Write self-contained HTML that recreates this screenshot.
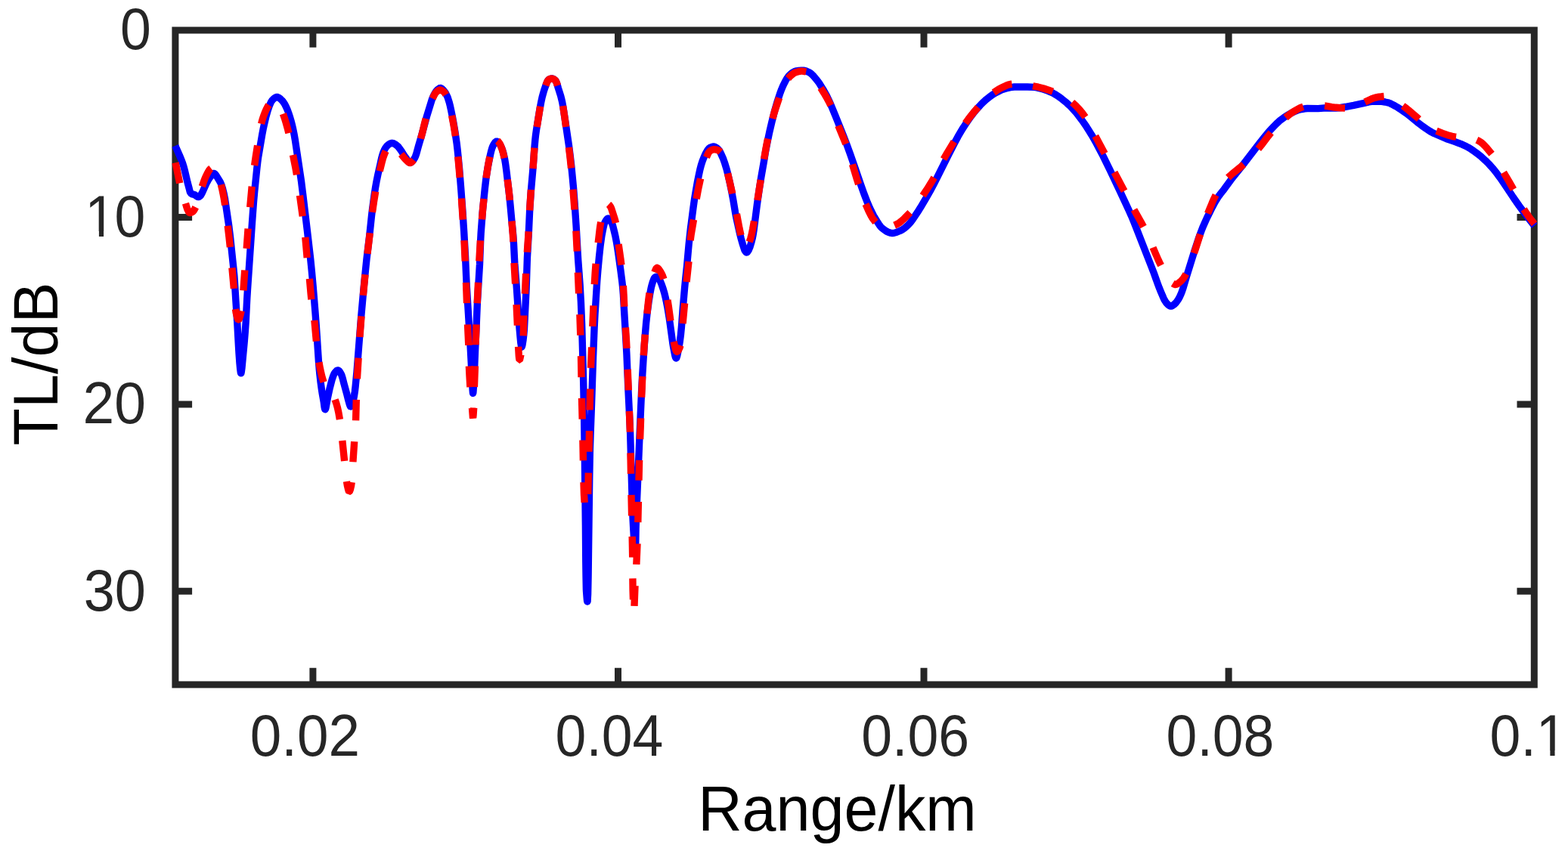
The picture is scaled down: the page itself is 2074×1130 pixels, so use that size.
<!DOCTYPE html>
<html lang="en"><head><meta charset="utf-8"><title>TL/dB versus Range/km</title>
<style>html,body{margin:0;padding:0;background:#fff}body{width:2074px;height:1130px}svg{display:block}text{font-family:"Liberation Sans",sans-serif}.tk{font-size:75px;fill:#262626}.lb{font-size:82.5px;fill:#000}</style></head><body>
<svg width="2074" height="1130" viewBox="0 0 2074 1130" role="img" aria-label="TL/dB versus Range/km">
<rect width="2074" height="1130" fill="#fff"/>
<g stroke="#262626" stroke-width="9.0" fill="none" stroke-linecap="butt" stroke-linejoin="miter">
<rect x="231.9" y="40.0" width="1797.40" height="865.90"/>
<path d="M413.9,905.9V883.7M413.9,40.0V62.8"/>
<path d="M817.5,905.9V883.7M817.5,40.0V62.8"/>
<path d="M1222.0,905.9V883.7M1222.0,40.0V62.8"/>
<path d="M1625.1,905.9V883.7M1625.1,40.0V62.8"/>
<path d="M231.9,287.6H254.1M2029.3,287.6H2006.5"/>
<path d="M231.9,534.9H254.1M2029.3,534.9H2006.5"/>
<path d="M231.9,782.3H254.1M2029.3,782.3H2006.5"/>
</g>
<g class="tk">
<text transform="translate(330.80,1000.20) scale(0.995,1.045)">0.02</text>
<text transform="translate(734.60,1000.20) scale(0.978,1.045)">0.04</text>
<text transform="translate(1139.30,1000.20) scale(0.978,1.045)">0.06</text>
<text transform="translate(1542.60,1000.20) scale(0.978,1.045)">0.08</text>
<text transform="translate(1970.60,1000.20) scale(0.978,1.045)">0.1</text>
<text transform="translate(199.90,65.00) scale(0.978,1.045)" text-anchor="end">0</text>
<text transform="translate(112.31,312.80) scale(0.978,1.045)" letter-spacing="-1.64">10</text>
<text transform="translate(192.90,560.40) scale(1.0,1.045)" text-anchor="end">20</text>
<text transform="translate(192.90,807.90) scale(0.985,1.045)" text-anchor="end">30</text>
</g>
<rect x="2036.16" y="993.44" width="14.21" height="7.96" fill="#fff"/><rect x="2056.55" y="993.44" width="13.63" height="7.96" fill="#fff"/>
<rect x="116.70" y="306.04" width="14.21" height="7.96" fill="#fff"/><rect x="137.09" y="306.04" width="13.63" height="7.96" fill="#fff"/>
<text class="lb" transform="translate(923.2,1099.4) scale(0.98,1.015)">Range/km</text>
<text class="lb" transform="translate(76.2,589.6) rotate(-90) scale(0.982,1.02)">TL/dB</text>
<g fill="none" stroke-linecap="butt">
<path stroke="#0000ff" stroke-width="9.4" stroke-linejoin="round" d="M231.8,192.8L237.8,206.5L240.5,213.0L241.7,216.3L242.9,220.1L244.3,225.5L248.1,241.5L250.3,249.7L251.0,252.7L251.6,254.5L252.2,255.3L252.9,256.1L254.2,256.9L256.6,257.4L257.6,257.7L260.0,259.6L261.8,260.5L262.3,260.6L263.2,260.4L264.6,259.4L265.2,258.9L265.7,258.1L267.5,254.9L273.0,242.6L274.2,240.4L275.9,237.3L277.6,234.8L280.6,231.0L281.7,229.9L282.4,229.5L282.8,229.4L283.1,229.4L283.8,229.7L284.5,230.3L285.1,231.0L286.1,232.4L290.3,239.3L291.6,241.5L292.6,243.8L293.4,246.1L294.3,248.9L295.9,255.3L297.5,263.1L302.6,297.8L304.6,314.1L309.0,355.9L309.8,364.4L310.3,371.9L312.0,399.3L313.8,427.2L315.5,458.2L316.1,468.2L317.0,480.6L317.7,488.1L318.3,492.5L318.5,493.6L318.8,493.9L319.0,493.4L319.3,491.9L320.0,486.6L323.1,453.5L324.2,440.0L325.2,425.6L326.8,394.1L327.5,382.6L333.2,298.8L335.5,266.9L336.7,253.5L339.9,222.1L340.8,214.2L341.6,208.2L346.7,178.2L348.1,170.8L349.6,163.9L351.9,154.2L353.8,147.4L355.8,141.3L357.8,136.5L358.7,134.7L359.5,133.5L360.2,132.5L361.4,131.3L362.6,130.2L363.9,129.2L365.3,128.6L366.2,128.4L367.0,128.5L367.8,128.8L368.7,129.2L370.0,130.1L371.3,131.2L372.9,132.8L374.2,134.2L375.3,135.8L376.9,138.3L378.3,141.1L380.3,145.7L381.7,149.5L383.1,153.7L384.7,159.0L386.2,164.8L387.6,170.7L389.1,178.0L390.3,184.9L397.2,230.9L398.5,239.8L400.6,256.7L406.4,305.3L410.6,341.6L412.3,358.5L414.2,379.4L416.9,412.3L418.4,432.3L421.5,479.2L422.2,487.5L422.9,495.1L424.0,505.0L425.3,514.5L426.3,520.9L428.2,531.7L429.0,538.0L429.5,540.6L429.9,541.7L430.0,541.8L430.2,541.7L430.6,540.9L431.0,539.5L431.6,536.4L433.4,526.4L436.2,513.6L437.7,507.8L439.4,501.4L440.4,498.4L441.7,495.3L442.3,494.0L443.2,492.8L444.3,491.5L445.1,490.7L446.0,490.2L446.8,489.9L447.1,489.9L447.8,490.2L448.6,490.8L449.3,491.7L450.8,494.2L451.5,495.5L452.2,497.3L453.2,500.6L454.7,506.6L458.9,522.0L460.6,528.8L462.3,535.1L463.1,537.2L463.5,537.8L463.8,537.9L464.2,537.6L464.5,537.2L465.5,535.7L466.3,533.8L467.0,531.4L467.8,527.5L468.6,523.0L469.4,517.6L470.1,511.6L471.0,502.2L472.0,491.7L477.7,418.9L481.2,380.1L483.4,358.2L485.0,342.5L488.8,311.2L491.4,286.6L492.6,276.2L495.3,256.4L496.6,248.0L498.0,240.1L499.8,231.3L502.7,218.6L504.6,209.7L505.6,205.9L506.8,202.1L508.2,198.8L509.7,196.0L511.4,193.6L512.4,192.6L513.5,191.7L515.7,190.2L516.7,189.8L517.7,189.4L518.6,189.3L519.5,189.4L520.8,189.8L522.6,190.8L525.2,192.8L526.7,194.1L527.3,194.9L530.9,199.8L534.6,205.7L537.0,209.0L539.2,212.5L540.2,213.8L540.8,214.5L541.9,215.2L542.5,215.3L542.9,215.2L544.0,214.7L545.7,213.2L547.1,211.4L548.4,209.3L549.6,206.7L550.6,203.9L553.3,194.0L557.8,178.6L564.2,154.9L570.5,134.3L571.4,131.5L572.3,129.2L574.0,125.5L575.5,122.8L576.9,120.7L578.9,118.5L580.7,117.2L581.5,116.7L582.4,116.5L582.8,116.5L583.6,116.8L584.9,117.7L586.5,119.3L588.3,121.6L589.7,123.7L590.8,126.0L592.1,128.8L593.0,131.6L594.2,135.4L595.2,139.3L596.5,145.2L598.7,156.0L600.1,163.8L601.8,173.7L604.1,189.5L605.1,198.0L606.1,207.4L607.7,224.4L609.7,249.3L611.8,277.7L613.7,306.6L615.5,338.6L616.7,366.6L617.2,377.5L622.4,463.4L625.1,515.3L625.4,519.2L625.6,520.4L625.9,519.1L626.2,514.9L627.3,495.1L628.5,465.6L630.0,433.6L631.4,400.1L634.5,349.7L634.8,341.7L635.7,317.3L636.2,307.8L637.1,295.8L638.1,282.3L639.5,267.9L641.4,249.0L642.8,237.1L644.1,228.2L645.6,219.3L648.6,204.5L649.8,199.5L650.8,196.2L651.8,193.5L652.9,191.2L654.2,189.2L655.3,187.9L656.4,187.2L656.9,187.1L657.4,187.2L658.5,187.9L660.1,189.5L661.7,191.9L663.0,194.5L664.3,197.6L665.5,201.5L666.5,205.5L667.6,210.5L668.5,215.9L669.8,225.3L673.9,260.1L674.9,270.5L677.0,293.4L678.8,311.8L679.5,322.3L680.4,340.8L680.8,348.3L683.1,377.5L686.8,431.6L688.2,447.3L688.8,453.6L689.5,458.1L689.8,459.0L690.0,459.1L690.1,459.0L690.4,458.4L690.9,456.7L691.9,450.6L692.8,442.8L693.4,436.1L696.1,382.1L697.4,341.2L699.3,308.2L700.8,275.3L702.5,251.2L704.9,223.9L707.1,193.5L707.8,185.5L708.5,179.1L709.6,171.2L713.8,145.5L715.8,134.7L717.2,128.3L718.8,122.5L720.1,118.2L722.5,111.3L723.8,108.2L724.7,106.5L725.3,105.8L725.9,105.2L727.0,104.7L729.0,104.1L730.5,104.0L731.5,104.3L732.5,104.8L733.4,105.4L734.4,106.3L735.0,106.9L735.6,108.1L736.2,109.4L736.9,111.4L738.4,116.6L741.6,126.6L742.7,131.0L743.7,135.3L745.1,143.2L747.5,159.0L752.5,192.7L754.2,206.1L755.7,219.0L757.1,233.4L758.5,248.3L759.8,264.8L762.1,298.7L763.9,330.7L764.7,344.1L767.1,376.6L768.4,399.5L769.6,428.5L771.6,501.0L772.5,545.0L773.3,599.4L774.4,695.4L774.8,744.0L775.1,764.5L775.4,779.9L775.6,783.4L776.3,792.2L776.6,794.9L776.9,796.0L777.1,795.4L777.2,793.5L777.6,786.3L778.1,761.2L779.7,635.2L780.4,594.7L781.0,576.2L782.5,535.7L784.6,471.7L786.1,433.8L787.0,415.8L789.7,372.4L790.8,358.4L792.4,341.0L794.1,325.1L795.9,312.2L796.8,307.3L798.1,300.8L798.8,297.9L799.7,295.1L800.3,293.8L801.2,292.2L802.5,290.3L803.2,289.6L803.9,289.1L804.4,289.0L804.9,289.1L805.7,289.6L806.4,290.3L807.5,291.7L808.4,293.2L809.6,295.8L810.7,299.1L812.9,308.0L814.1,313.3L815.4,320.2L816.8,328.6L818.2,338.0L820.8,356.8L822.9,373.2L823.6,379.7L824.4,389.6L825.5,409.6L827.6,444.5L828.9,468.0L831.0,517.0L832.9,555.4L833.6,571.9L836.0,655.9L837.1,686.8L837.8,700.3L838.8,716.6L839.7,729.2L840.1,732.4L840.3,733.5L840.5,732.2L840.6,727.9L841.1,699.1L841.6,684.3L845.9,579.4L848.5,519.9L849.5,500.0L850.8,479.0L852.4,455.1L853.6,439.6L854.7,426.7L856.0,414.7L857.9,400.3L859.6,389.5L860.5,384.6L861.4,380.1L862.3,376.7L863.3,373.4L864.9,369.0L865.4,368.1L866.0,367.3L867.1,366.5L868.1,366.2L869.0,366.4L870.0,366.9L870.8,367.5L871.4,368.1L872.4,369.9L875.0,376.0L877.1,382.1L878.8,387.9L880.2,393.7L881.7,400.5L883.2,408.4L885.2,420.7L889.8,453.9L890.6,458.9L892.1,466.8L892.8,470.5L893.5,472.8L893.9,473.7L894.2,474.0L894.4,474.0L894.7,473.7L895.2,472.4L895.9,469.9L897.9,460.0L899.3,451.7L900.4,443.2L901.5,431.8L903.3,407.3L905.5,381.9L906.5,371.5L908.6,351.6L911.1,323.7L913.3,303.3L917.0,274.6L918.6,263.2L920.6,251.3L922.3,241.5L924.4,231.2L925.9,224.3L927.4,218.5L929.1,213.3L930.9,208.6L932.1,205.8L933.4,203.1L935.4,199.5L936.9,197.3L937.8,196.3L938.8,195.6L940.7,194.7L942.3,194.2L943.8,194.0L945.1,194.2L946.1,194.6L947.0,195.1L948.8,196.4L950.2,197.7L951.4,199.1L952.4,200.9L953.8,203.7L956.5,209.7L958.8,216.3L961.1,223.9L963.3,232.7L965.6,242.9L967.6,252.7L969.8,264.5L972.5,280.8L973.9,288.2L978.8,310.1L980.3,316.0L982.5,323.6L984.5,329.9L985.1,331.3L985.8,332.5L986.9,333.8L987.3,334.1L987.6,334.1L988.0,333.9L988.4,333.6L989.1,332.7L990.2,331.0L991.0,329.2L991.8,327.3L993.0,323.4L994.1,319.6L995.1,315.7L995.9,311.8L997.1,304.4L1001.4,270.6L1004.3,250.3L1006.7,235.0L1010.4,213.9L1012.3,202.0L1014.8,188.8L1017.8,174.6L1020.9,161.4L1024.6,146.9L1027.9,135.3L1031.8,123.4L1033.2,119.6L1034.7,115.9L1036.1,112.8L1038.1,108.7L1039.6,105.9L1041.2,103.3L1042.7,101.3L1043.9,99.8L1045.6,98.2L1048.0,96.3L1049.8,95.2L1051.7,94.3L1053.6,93.8L1056.5,93.4L1060.0,93.1L1062.5,93.2L1064.5,93.5L1066.5,94.1L1069.7,95.5L1071.4,96.4L1072.9,97.5L1074.8,99.3L1076.6,101.2L1080.1,105.4L1082.0,107.8L1084.0,110.7L1088.5,117.9L1091.0,122.3L1093.6,127.1L1096.2,132.5L1098.5,137.5L1105.2,153.7L1115.6,179.7L1119.5,189.9L1124.5,203.6L1131.7,224.4L1138.2,243.3L1142.9,256.5L1145.4,263.0L1147.4,268.1L1149.6,273.2L1151.9,278.2L1155.5,285.3L1159.9,292.7L1162.7,297.1L1163.9,298.8L1165.1,300.3L1166.5,301.6L1167.9,302.8L1170.3,304.6L1172.5,306.0L1174.4,307.0L1175.9,307.6L1177.8,308.2L1179.2,308.5L1180.6,308.5L1182.1,308.3L1183.5,308.0L1185.5,307.5L1187.9,306.5L1190.3,305.5L1192.9,304.2L1194.6,303.2L1196.3,302.0L1197.8,300.7L1201.2,297.6L1204.2,294.3L1207.2,290.4L1213.7,280.7L1217.4,274.8L1225.8,260.6L1231.2,251.1L1236.1,241.8L1254.7,204.6L1262.4,189.5L1267.1,180.7L1272.4,171.6L1276.2,165.7L1280.1,159.9L1284.4,153.8L1288.4,148.6L1292.3,144.0L1297.0,138.8L1300.9,134.9L1304.6,131.6L1309.3,127.8L1313.8,124.7L1317.5,122.5L1323.1,119.7L1326.8,118.2L1330.0,117.2L1336.5,115.7L1339.0,115.3L1341.5,115.0L1351.9,114.9L1358.9,115.0L1367.9,115.4L1371.4,115.9L1374.3,116.6L1378.7,117.7L1382.0,118.7L1384.9,119.7L1388.1,121.1L1391.8,122.7L1394.4,124.1L1397.0,125.6L1400.4,127.9L1404.4,130.8L1407.5,133.3L1411.0,136.2L1414.3,139.3L1417.8,142.8L1420.8,146.1L1423.8,149.5L1427.2,153.9L1430.8,158.6L1434.0,163.1L1437.1,167.7L1440.6,173.2L1444.0,178.7L1447.0,183.9L1450.4,190.0L1459.0,206.4L1468.1,224.8L1484.3,259.2L1492.7,277.3L1496.4,285.5L1499.5,292.9L1503.0,301.7L1522.3,351.1L1526.1,360.9L1531.3,375.5L1533.6,381.6L1535.3,385.8L1538.9,394.2L1540.0,396.5L1541.0,398.2L1542.1,399.8L1542.9,400.9L1544.7,402.8L1546.0,403.9L1547.3,404.7L1548.2,405.0L1548.8,405.1L1549.5,405.0L1550.4,404.7L1551.3,404.2L1553.4,402.5L1555.5,400.5L1557.0,398.5L1558.7,395.9L1560.2,393.2L1561.9,389.6L1563.5,385.5L1565.1,380.8L1569.5,365.7L1580.0,331.8L1585.5,315.2L1589.1,305.4L1591.3,299.8L1593.7,294.3L1596.4,288.4L1599.5,282.1L1603.3,274.5L1606.1,269.2L1608.9,264.4L1611.3,260.6L1613.6,257.4L1619.2,250.3L1630.0,235.5L1643.9,218.2L1666.1,189.3L1672.4,181.4L1676.5,176.4L1679.8,172.7L1684.9,167.2L1689.2,162.9L1692.9,159.6L1698.1,155.7L1702.7,152.6L1708.8,149.2L1713.4,147.0L1716.6,145.8L1721.9,144.5L1725.9,143.8L1729.4,143.5L1743.4,143.6L1754.4,142.8L1766.9,143.1L1770.4,142.9L1773.3,142.5L1790.6,139.4L1803.3,136.7L1810.6,134.9L1812.6,134.6L1814.6,134.4L1825.1,134.3L1827.1,134.3L1829.1,134.5L1832.1,135.0L1835.9,135.8L1838.3,136.6L1841.0,137.9L1845.9,140.5L1848.5,142.0L1851.9,144.2L1856.4,147.3L1860.1,149.9L1865.2,153.9L1874.1,161.2L1880.8,166.4L1886.5,170.4L1892.0,174.0L1894.6,175.4L1897.3,176.7L1912.9,183.5L1916.7,184.9L1924.7,187.6L1928.0,188.8L1934.1,191.2L1939.1,193.5L1943.9,196.2L1948.9,199.5L1954.6,203.6L1959.6,207.7L1964.8,212.4L1969.4,217.0L1974.4,222.6L1979.2,228.4L1982.1,232.4L1985.3,236.9L1992.1,246.8L2001.5,261.0L2009.5,272.5L2014.2,278.9L2019.3,285.7L2024.5,292.4L2029.6,298.8"/>
<path stroke="#ff0000" stroke-width="9.4" stroke-linejoin="bevel" d="M232.1,215.2L237.7,242.4M245.5,269.2L247.0,274.3L247.8,276.7L249.5,280.3L250.1,281.1L250.8,281.5L251.6,281.6L253.1,281.1L254.5,280.5L255.2,280.0L255.8,279.3L256.7,278.0L257.5,276.6L258.7,274.2M267.3,246.8L269.3,240.9L270.7,237.1L272.1,233.9L274.1,229.8L275.6,227.0L276.7,225.2L277.9,223.7L279.2,222.7M292.4,244.3L293.8,250.1L295.1,256.5L296.4,263.4L297.7,271.4M301.2,298.8L303.0,313.9L304.4,326.9M306.9,354.4L309.4,381.9M311.5,409.0L312.2,413.7L313.2,418.0L314.2,421.3L314.7,422.4L315.2,423.0L315.6,423.0L316.1,422.4L316.9,420.4L318.1,416.2L319.1,411.4M321.9,384.4L323.8,357.5M326.2,328.8L328.1,302.5M330.7,274.2L333.2,246.8M336.6,219.0L338.3,207.0L340.6,192.5M345.6,163.8L346.5,160.3L347.5,156.9L348.8,153.1L350.2,149.4L351.6,146.1L352.9,143.4L354.3,140.7L355.6,138.8M374.4,150.6L376.5,156.7L378.4,162.9L380.3,169.7L381.9,176.2M387.5,205.0L390.9,222.1L392.5,231.2M396.5,258.7L400.3,286.2M403.8,313.8L406.2,341.2M409.4,368.8L411.2,389.3L411.9,396.2M415.9,423.9L416.6,431.5L418.4,451.7M421.9,479.4L423.3,487.1L424.8,494.0L426.4,500.3L428.1,505.6M443.1,528.8L444.9,533.9L446.5,539.7L447.9,546.2L449.4,555.0M452.8,583.0L455.6,610.0M458.5,636.9L459.4,642.4L460.4,646.8L461.1,649.4L461.6,650.2L461.8,650.5L462.1,650.4L462.6,649.7L463.1,648.5L463.6,646.8L464.6,642.4L465.2,638.2M466.9,611.2L468.7,584.3M470.6,556.4L471.3,528.9M472.4,501.2L474.1,473.6M475.9,446.0L478.0,418.4M480.4,390.9L483.0,363.3M486.0,335.8L489.3,308.3M492.5,280.8L494.4,267.5L496.7,253.5M502.2,226.4L505.0,215.1L506.4,209.8L508.2,204.6L509.2,202.2L510.3,200.0M530.6,204.0L531.7,205.3L534.5,208.9L535.9,210.4L539.3,213.8L540.6,214.8L541.4,215.2L542.2,215.5L542.6,215.5L542.9,215.4L543.7,215.1L544.5,214.5L545.3,213.8L547.1,211.5M556.5,183.5L558.5,176.3L561.7,162.7L563.2,156.9M572.1,130.3L574.4,125.7L575.4,123.9L576.3,122.7L577.3,121.7L578.8,120.4L580.2,119.5L581.1,119.1L582.0,119.0L582.9,119.1L584.4,119.7L585.8,120.6L587.0,121.5L587.9,122.4L588.8,123.6L589.8,125.4M597.6,152.9L600.0,165.2L602.4,180.0M605.7,207.3L606.8,218.8L608.2,235.0M610.4,262.5L612.3,290.6M614.0,318.1L615.2,345.6M616.5,373.8L617.5,401.2M618.5,429.4L619.8,456.9M620.4,484.4L621.0,496.9L621.9,512.3M624.5,540.0L625.3,550.5L625.4,552.1L625.6,552.6L625.8,551.7L626.1,548.8L626.7,539.6M627.4,512.0L628.4,484.4M629.1,456.2L630.0,429.4M631.2,401.2L632.5,373.8M633.8,345.6L635.4,318.3M637.5,290.3L638.6,276.9L640.0,263.0M643.0,235.6L644.1,228.2L645.2,221.3L646.3,214.9L647.8,207.5M657.9,186.3L659.0,187.2L660.3,189.0L661.8,191.5L663.1,194.6L664.1,197.4L665.1,200.8L666.1,204.8L667.0,209.2M671.2,237.5L672.9,250.8L674.4,265.0M676.9,292.5L678.3,309.6L679.0,320.0M680.0,348.1L681.6,375.5M683.1,403.1L684.4,430.6M685.6,458.8L686.3,470.7L686.6,473.9L687.0,475.9L687.1,476.3L687.3,476.3L687.6,475.5L688.2,473.0L688.9,469.2M692.2,444.4L692.9,417.5M694.4,388.8L695.6,361.9M697.3,333.8L699.2,306.2M700.6,278.4L701.5,264.0L702.4,251.0M705.0,223.1L706.9,195.7M710.2,167.9L714.6,140.7M721.9,113.1L722.8,110.5L723.7,108.4L724.4,107.0L725.2,105.9L726.1,105.1L726.8,104.7L728.3,104.2L730.0,104.0L731.3,104.3L732.3,104.7L733.7,105.6L734.6,106.5L735.3,107.5L736.2,109.3L737.5,113.3M744.6,140.1L747.0,155.9L748.6,167.8M752.4,195.0L754.0,207.9L755.5,222.4M757.9,250.6L760.0,277.5M761.9,305.6L763.3,332.6M764.4,360.6L765.6,388.4M766.9,416.2L767.8,443.7M768.5,471.2L769.0,499.1M769.5,526.9L770.2,554.7M770.9,582.5L771.4,609.4M772.0,638.1L772.5,654.5L773.2,665.0M777.8,653.8L778.3,625.6M779.0,597.7L779.5,570.1M780.0,542.5L780.7,514.7M781.5,486.9L782.6,459.4M783.8,431.9L785.0,404.4M786.3,376.2L787.2,360.8L788.1,348.8M791.2,321.2L793.3,303.1L794.0,298.1L794.8,293.8M805.0,270.4L805.9,271.2L806.9,272.5L807.9,274.2L808.7,276.0L812.7,288.4L813.7,291.8L814.4,295.0M818.1,323.1L820.8,341.8L821.9,350.6M824.4,378.1L824.9,387.6L825.8,405.8M827.4,433.4L828.4,449.0L829.0,461.0M830.2,488.7L831.3,516.4M832.4,544.0L833.4,571.7M834.0,599.4L834.5,626.9M835.0,654.9L835.6,682.4M836.2,709.9L836.7,737.4M836.9,765.4L837.1,780.9L837.5,793.3M839.0,801.9L840.0,775.0M841.8,746.9L842.5,732.1L843.0,719.4M843.8,691.2L844.4,663.8M845.0,635.6L845.6,608.8M846.6,581.1L847.6,553.4M848.6,525.7L849.8,498.0M851.3,470.4L852.1,457.8L853.3,442.7M855.9,415.1L857.7,397.5L859.0,387.6M865.8,360.2L867.2,356.7L867.8,355.6L868.3,354.8L868.9,354.4L869.2,354.3L869.5,354.3L870.1,354.8L870.8,355.5L871.9,356.9L873.4,359.1L874.6,361.3L875.8,363.5L876.6,365.4L877.9,369.3M883.0,396.9L884.2,404.7L886.9,424.5M891.2,452.0L892.5,458.0L893.4,461.7L894.2,464.0L894.8,465.0L895.1,465.4L895.5,465.5L895.7,465.5L896.1,465.1L896.7,464.5L897.5,463.2L898.3,461.6L899.1,459.9L900.0,457.0M903.1,428.1L905.6,401.2M908.1,372.9L911.0,345.9M913.1,318.1L914.2,309.9L917.5,290.6M921.2,263.1L923.6,250.1L926.6,236.2M934.4,208.1L936.4,203.6L937.1,202.2L938.0,201.0L938.6,200.3L939.5,199.5L940.4,199.0L941.8,198.3L943.3,197.9L944.4,197.8L946.3,197.9L948.8,198.4L949.7,198.7L951.1,199.5L952.3,200.5L953.1,201.2M962.5,229.4L965.3,241.2L968.8,256.2M974.4,283.1L978.0,302.4L980.0,311.2M991.2,320.0L992.8,315.5L994.3,309.7L995.5,303.7L997.5,292.5M1001.9,265.0L1006.2,238.1M1010.6,210.6L1013.2,195.6L1015.6,183.5M1021.9,156.9L1023.5,151.2L1025.4,145.0L1030.6,129.4M1042.5,103.8L1045.3,100.7L1047.7,98.6L1050.2,96.8L1052.4,95.7L1056.1,94.7L1058.1,94.3L1059.7,94.1L1061.1,94.1L1062.7,94.3L1066.2,95.0M1085.6,116.2L1089.8,122.9L1093.1,128.5L1096.2,134.2L1098.8,139.4M1108.8,166.2L1116.1,183.9L1118.8,190.6M1127.5,217.5L1133.3,236.6L1135.6,243.8M1145.0,270.0L1149.2,279.6L1152.0,285.1L1153.5,287.8L1155.1,290.2L1156.6,292.1L1158.1,293.8M1183.1,298.1L1185.4,297.1L1187.5,296.0L1189.6,294.7L1192.0,292.8L1194.3,290.8L1196.6,288.6L1203.8,281.2M1220.6,258.8L1225.0,252.2L1228.8,246.3L1232.2,240.8L1235.6,235.0M1248.1,210.6L1253.0,202.1L1261.9,187.5M1276.9,163.1L1280.3,158.4L1284.3,153.2L1288.7,147.8L1293.8,141.9M1314.4,122.5L1320.5,118.4L1323.2,116.9L1325.4,115.8L1330.9,113.2L1333.7,112.1L1336.2,111.5L1338.5,111.2M1366.2,113.8L1373.3,115.2L1380.5,117.1L1386.2,118.9L1392.5,121.2M1418.1,135.5L1420.3,137.4L1422.9,139.8L1427.4,144.5L1431.6,149.6L1435.6,155.0M1448.8,180.0L1461.2,203.1M1474.0,228.0L1487.1,252.7M1500.0,277.5L1509.0,293.5L1512.5,300.0M1525.0,327.5L1531.9,343.5L1533.8,347.6L1535.6,351.2M1551.2,375.0L1553.0,376.1L1553.9,376.4L1554.5,376.5L1555.3,376.4L1556.2,376.2L1557.1,375.8L1558.5,374.9L1560.2,373.6L1562.1,371.9L1564.1,369.8L1565.3,368.2L1566.5,366.5L1568.8,362.5M1579.4,335.0L1581.5,328.9L1587.5,310.0M1597.5,282.5L1600.7,274.7L1603.2,268.7L1605.6,263.2L1608.1,258.1M1624.4,235.0L1626.5,233.0L1629.1,230.7L1640.4,221.5L1645.0,217.5M1664.4,196.9L1668.6,191.8L1677.4,180.2L1681.2,175.6M1700.6,155.6L1703.7,152.9L1706.5,150.8L1708.9,149.0L1711.4,147.3L1715.8,144.8L1718.9,143.1L1721.2,142.1L1723.8,141.2M1752.1,140.0L1754.8,140.3L1761.7,141.6L1764.6,142.0L1773.1,142.8L1779.0,143.0M1805.3,135.0L1813.4,131.2L1815.2,130.4L1817.1,129.8L1820.4,128.9L1823.9,128.2L1827.4,127.8L1830.6,127.5M1855.6,140.0L1859.0,142.5L1862.9,145.6L1876.9,157.5M1900.0,173.1L1908.0,176.3L1914.7,178.7L1920.6,180.3L1923.5,180.9L1926.0,181.2M1953.4,185.3L1955.6,186.3L1957.7,187.5L1959.6,188.9L1961.9,190.9L1964.1,193.1L1966.3,195.5L1973.1,203.8M1988.8,228.1L1995.8,239.9L2001.9,250.6M2015.6,276.9L2018.6,281.5L2022.0,286.5L2025.6,291.3L2029.5,296.2"/>
</g>
</svg></body></html>
